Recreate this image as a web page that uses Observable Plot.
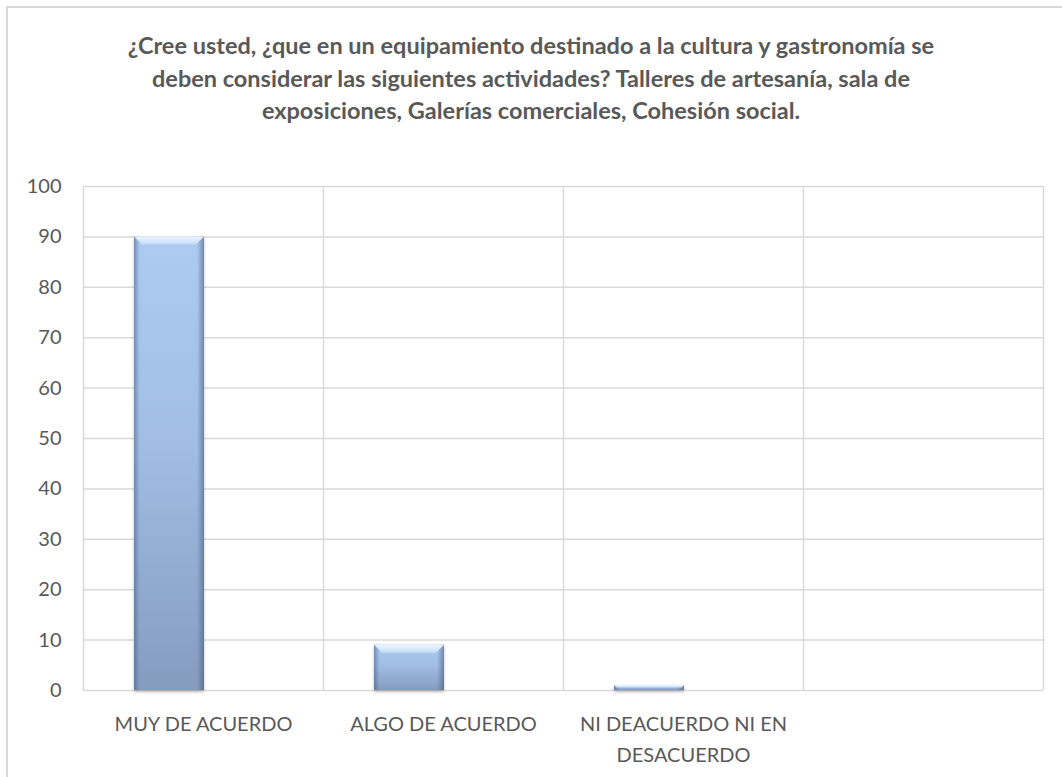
<!DOCTYPE html>
<html>
<head>
<meta charset="utf-8">
<script src="https://cdn.jsdelivr.net/npm/d3@7"></script>
<script src="https://cdn.jsdelivr.net/npm/@observablehq/plot@0.6"></script>
<style>
  html, body { margin: 0; padding: 0; background: #fff; }
  body { width: 1062px; height: 777px; position: relative; overflow: hidden; font-family: Lato, "Open Sans", sans-serif; }
  #frame { position: absolute; left: 6px; top: 6px; width: 1100px; height: 800px; border-left: 2px solid #d9d9d9; border-top: 2px solid #d9d9d9; box-sizing: border-box; }
  #title { position: absolute; left: 0; top: 29px; width: 1062px; text-align: center; font-weight: 700; font-size: 23.5px; line-height: 32.5px; color: #595959; letter-spacing: 0; }
  #chart { position: absolute; left: 0; top: 170px; }
</style>
</head>
<body>
<div id="frame"></div>
<div id="title">¿Cree usted, ¿que en un equipamiento destinado a la cultura y gastronomía se<br>deben considerar las siguientes actividades? Talleres de artesanía, sala de<br>exposiciones, Galerías comerciales, Cohesión social.</div>
<div id="chart"></div>
<script>
const categories = ["MUY DE ACUERDO", "ALGO DE ACUERDO", "NI DEACUERDO NI EN DESACUERDO", ""];
const values = [90, 9, 1, null];
const xTickLabels = ["MUY DE ACUERDO", "ALGO DE ACUERDO", "NI DEACUERDO NI EN\nDESACUERDO", ""];
const yTicks = [0, 10, 20, 30, 40, 50, 60, 70, 80, 90, 100];

const rows = categories.map((c, i) => ({category: c, index: i, value: values[i]})).filter(d => d.value != null);
const slotEdges = d3.range(categories.length + 1);
const slotCenters = categories.map((c, i) => i + 0.5);

const plot = Plot.plot({
  width: 1062,
  height: 607,
  marginTop: 16,
  marginBottom: 87,
  marginLeft: 83,
  marginRight: 19,
  style: {fontFamily: "Lato, 'Open Sans', sans-serif", fontSize: "20px", color: "#595959", background: "transparent", overflow: "visible"},
  x: {domain: [0, categories.length], axis: null, label: null},
  y: {domain: [0, 100], axis: null, label: null},
  marks: [
    Plot.ruleY(yTicks, {stroke: "#d9d9d9", strokeWidth: 1.5}),
    Plot.ruleX(slotEdges, {stroke: "#d9d9d9", strokeWidth: 1.5}),
    Plot.rectY(rows, {x1: d => d.index, x2: d => d.index + 1, y1: 0, y2: "value", insetLeft: 51, insetRight: 119, fill: "url(#barV)"}),
    Plot.rectY(rows, {x1: d => d.index, x2: d => d.index + 1, y1: 0, y2: "value", insetLeft: 51, insetRight: 119, fill: "url(#barH)"}),
    Plot.axisY(yTicks, {tickSize: 0, tickPadding: 22, fill: "#595959", label: null}),
    Plot.axisX(slotCenters, {tickSize: 0, tickPadding: 18, tickFormat: (d) => xTickLabels[Math.floor(d)], lineHeight: 1.55, fill: "#595959", label: null})
  ]
});

const NS = "http://www.w3.org/2000/svg";
const defs = document.createElementNS(NS, "defs");
defs.innerHTML = `
  <linearGradient id="barV" x1="0" y1="0" x2="0" y2="1">
    <stop offset="0" stop-color="#b3d1f7"/>
    <stop offset="0.45" stop-color="#a6c3ea"/>
    <stop offset="1" stop-color="#889fc2"/>
  </linearGradient>
  <linearGradient id="barH" x1="0" y1="0" x2="1" y2="0">
    <stop offset="0" stop-color="#44597a" stop-opacity="0.55"/>
    <stop offset="0.08" stop-color="#44597a" stop-opacity="0.05"/>
    <stop offset="0.9" stop-color="#44597a" stop-opacity="0.05"/>
    <stop offset="1" stop-color="#44597a" stop-opacity="0.6"/>
  </linearGradient>
  <linearGradient id="bevel" x1="0" y1="0" x2="0" y2="1">
    <stop offset="0" stop-color="#eef7ff"/>
    <stop offset="1" stop-color="#c4dcf7"/>
  </linearGradient>
  <filter id="shadow" x="-20%" y="-5%" width="140%" height="120%">
    <feDropShadow dx="0" dy="2" stdDeviation="1.5" flood-color="#000" flood-opacity="0.25"/>
  </filter>`;
plot.insertBefore(defs, plot.firstChild);

// bevel highlight on bar tops + shadow
const rectGroups = plot.querySelectorAll('g[aria-label="rect"]');
if (rectGroups.length) {
  rectGroups[0].setAttribute("filter", "url(#shadow)");
  const g = document.createElementNS(NS, "g");
  rectGroups[0].querySelectorAll("rect").forEach(r => {
    const x = +r.getAttribute("x"), y = +r.getAttribute("y");
    const w = +r.getAttribute("width"), h = +r.getAttribute("height");
    const b = Math.min(8, h / 2);
    const p = document.createElementNS(NS, "path");
    p.setAttribute("d", `M${x},${y}H${x + w}L${x + w - b},${y + b}H${x + b}Z`);
    p.setAttribute("fill", "url(#bevel)");
    g.appendChild(p);
  });
  rectGroups[rectGroups.length - 1].after(g);
}

document.getElementById("chart").appendChild(plot);
</script>
</body>
</html>
